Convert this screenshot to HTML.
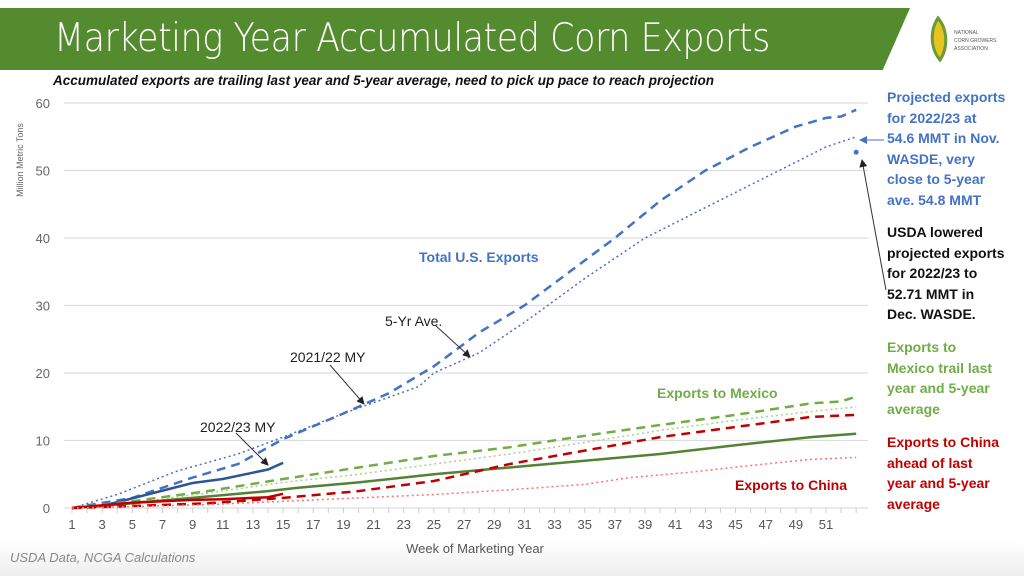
<!DOCTYPE html>
<html><head><meta charset="utf-8"><style>
body{margin:0;width:1024px;height:576px;overflow:hidden;background:#fff;font-family:"Liberation Sans",sans-serif;position:relative}
.hdr{position:absolute;left:0;top:8px;width:910px;height:62px;background:#548b2f;clip-path:polygon(0 0,100% 0,97% 100%,0 100%)}
.hdr div{color:#fff;font-size:39px;position:absolute;left:54px;top:8px;font-family:"DejaVu Sans","Liberation Sans",sans-serif;font-weight:200;letter-spacing:-0.5px;transform:scaleX(0.895);transform-origin:0 0;white-space:nowrap}
.sub{position:absolute;left:53px;top:73px;font-size:13.5px;font-weight:bold;font-style:italic;color:#111}
.rt{position:absolute;left:887px;font-size:14px;font-weight:bold;line-height:20.5px}
.foot{position:absolute;left:10px;top:550px;font-size:13px;font-style:italic;color:#888}
.bot{position:absolute;left:0;top:540px;width:1024px;height:36px;background:linear-gradient(#fff,#eee)}
</style></head><body>
<div class="bot"></div>
<div class="hdr"><div>Marketing Year Accumulated Corn Exports</div></div>
<svg style="position:absolute;left:918px;top:12px" width="90" height="52"><path d="M20 6 C12 18 12 36 22 48 C30 36 30 18 20 6Z" fill="#e8c421" stroke="#6a9a3a" stroke-width="3"/><text x="36" y="22" font-size="5" fill="#555">NATIONAL</text><text x="36" y="30" font-size="5" fill="#555">CORN GROWERS</text><text x="36" y="38" font-size="5" fill="#555">ASSOCIATION</text></svg>
<div class="sub">Accumulated exports are trailing last year and 5-year average, need to pick up pace to reach projection</div>
<svg id="c" style="position:absolute;left:0;top:0" width="1024" height="576"></svg>
<div class="rt" style="top:87px;color:#4472c4">Projected exports<br>for 2022/23 at<br>54.6 MMT in Nov.<br>WASDE, very<br>close to 5-year<br>ave. 54.8 MMT</div>
<div class="rt" style="top:222px;color:#111">USDA lowered<br>projected exports<br>for 2022/23 to<br>52.71 MMT in<br>Dec. WASDE.</div>
<div class="rt" style="top:337px;color:#70ad47">Exports to<br>Mexico trail last<br>year and 5-year<br>average</div>
<div class="rt" style="top:432px;color:#c00000">Exports to China<br>ahead of last<br>year and 5-year<br>average</div>
<div class="foot">USDA Data, NCGA Calculations</div>
<script>
const X=w=>72+(w-1)*15.08,Y=v=>508-v*6.75;
let s='';
for(let v=0;v<=60;v+=10){s+=`<line x1="64" x2="868" y1="${Y(v)}" y2="${Y(v)}" stroke="#ddd" stroke-width="1.3"/><text x="50" y="${Y(v)+5}" font-size="13" fill="#666" text-anchor="end">${v}</text>`;}
for(let w=1;w<=53;w++){s+=`<line x1="${X(w)}" x2="${X(w)}" y1="508" y2="513" stroke="#ccc"/>`;if(w%2==1&&w<=51)s+=`<text x="${X(w)}" y="529" font-size="13" fill="#555" text-anchor="middle">${w}</text>`;}
s+=`<text x="475" y="553" font-size="13" fill="#555" text-anchor="middle">Week of Marketing Year</text>`;
s+=`<text transform="translate(23,160) rotate(-90)" font-size="9" fill="#666" text-anchor="middle">Million Metric Tons</text>`;
function L(pts,col,dash,wd){let d=pts.map((p,i)=>(i?'L':'M')+X(p[0]).toFixed(1)+' '+Y(p[1]).toFixed(1)).join('');s+=`<path d="${d}" fill="none" stroke="${col}" stroke-width="${wd}" stroke-dasharray="${dash}"/>`;}
L([[1,0],[5,1.5],[9,4.5],[12,6.5],[15,10.2],[19,14],[22,17],[25,21],[28,26],[31,30],[34,35],[37,40],[40,45.5],[43,50],[46,53.5],[49,56.5],[51,57.8],[52,58],[53,59]],'#4472c4','9,6',2.5);
L([[1,0],[4,2],[8,5.5],[12,8],[15,10.5],[19,14],[24,18],[25,20],[28,23],[31,27.5],[35,34],[39,40],[43,44.5],[47,49],[51,53.5],[53,55]],'#4472c4','2,3',1.5);
L([[1,0],[3,0.3],[6,2],[9,3.7],[11,4.3],[14,5.7],[15,6.7]],'#2f5597','',2.5);
L([[1,0],[5,1],[10,2.5],[15,4.3],[20,6],[25,7.7],[30,9],[35,10.7],[40,12.3],[45,13.8],[50,15.5],[52,15.8],[53,16.5]],'#70ad47','9,6',2.5);
L([[1,0],[5,0.8],[10,2.2],[15,3.8],[20,5],[25,6.5],[30,8],[35,9.7],[40,11.5],[45,13],[50,14.3],[53,15]],'#a9d18e','2,3',1.5);
L([[1,0],[5,0.7],[10,1.7],[14,2.5],[16,3],[20,3.8],[25,5],[30,6],[35,7],[40,8],[45,9.3],[50,10.5],[53,11]],'#548235','',2.5);
L([[1,0],[5,0.3],[10,0.7],[15,1.5],[20,2.5],[25,4],[30,6.5],[35,8.5],[40,10.5],[45,12],[50,13.5],[53,13.8]],'#c00000','9,6',2.5);
L([[1,0],[5,0.8],[9,1.2],[11,1.3],[14,1.6],[15,2.1]],'#c00000','',2.5);
L([[1,0],[10,0.5],[15,1],[20,1.5],[25,2],[30,2.7],[35,3.5],[38,4.5],[42,5.3],[46,6.3],[50,7.2],[53,7.5]],'#ff7070','2,3',1.5);
s+=`<circle cx="${X(53)}" cy="${Y(52.71)}" r="2.5" fill="#4472c4"/>`;
s+=`<defs><marker id="a" markerWidth="8" markerHeight="8" refX="7" refY="4" orient="auto"><path d="M0 0L8 4L0 8Z" fill="#222"/></marker><marker id="b" markerWidth="8" markerHeight="8" refX="7" refY="4" orient="auto"><path d="M0 0L8 4L0 8Z" fill="#4472c4"/></marker></defs>`;
s+=`<line x1="236" x2="268" y1="433" y2="465" stroke="#333" marker-end="url(#a)"/>`;
s+=`<line x1="330" x2="364" y1="365" y2="404" stroke="#333" marker-end="url(#a)"/>`;
s+=`<line x1="435" x2="470" y1="325" y2="357" stroke="#333" marker-end="url(#a)"/>`;
s+=`<line x1="884" x2="860" y1="140" y2="140" stroke="#4472c4" marker-end="url(#b)"/>`;
s+=`<line x1="886" x2="862" y1="290" y2="160" stroke="#333" marker-end="url(#a)"/>`;
s+=`<text x="200" y="432" font-size="14" fill="#222">2022/23 MY</text>`;
s+=`<text x="290" y="362" font-size="14" fill="#222">2021/22 MY</text>`;
s+=`<text x="385" y="326" font-size="14" fill="#222">5-Yr Ave.</text>`;
s+=`<text x="419" y="262" font-size="14" font-weight="bold" fill="#4472c4">Total U.S. Exports</text>`;
s+=`<text x="657" y="398" font-size="14" font-weight="bold" fill="#70ad47">Exports to Mexico</text>`;
s+=`<text x="735" y="490" font-size="14" font-weight="bold" fill="#c00000">Exports to China</text>`;
document.getElementById('c').innerHTML=s;
</script>
</body></html>
